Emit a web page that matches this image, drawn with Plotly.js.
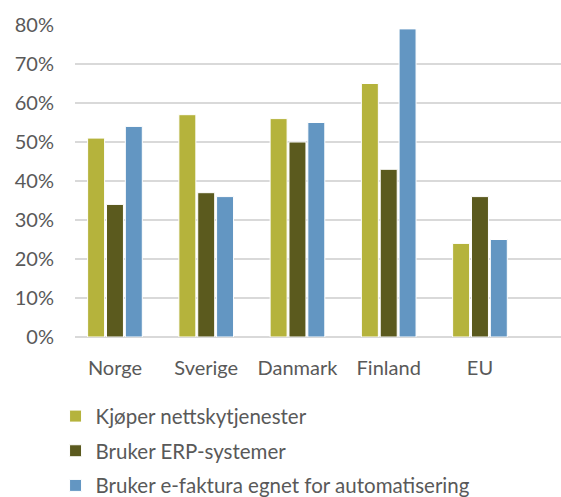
<!DOCTYPE html>
<html>
<head>
<meta charset="utf-8">
<script src="https://cdn.plot.ly/plotly-3.0.1.min.js"></script>
<style>html,body{margin:0;padding:0;background:#fff;}#chart{width:561px;height:497px;}</style>
</head>
<body>
<div id="chart"></div>
<script>
const categories = ["Norge", "Sverige", "Danmark", "Finland", "EU"];
const seriesNames = ["Kjøper nettskytjenester", "Bruker ERP-systemer", "Bruker e-faktura egnet for automatisering"];
const kjoperNettsky = [51, 57, 56, 65, 24];
const brukerERP = [34, 37, 50, 43, 36];
const brukerEfaktura = [54, 36, 55, 79, 25];
const yTickVals = [0, 10, 20, 30, 40, 50, 60, 70, 80];
const yTickText = ["0%", "10%", "20%", "30%", "40%", "50%", "60%", "70%", "80%"];

const colors = ["#b5b33c", "#5b5a1e", "#6396c2"];
const seriesValues = [kjoperNettsky, brukerERP, brukerEfaktura];
const xIdx = categories.map((c, i) => i);

const traces = seriesValues.map((vals, k) => ({
  type: "bar",
  x: xIdx,
  y: vals,
  name: seriesNames[k],
  legendgroup: "g" + k,
  marker: {color: colors[k], line: {color: "#ffffff", width: 1}},
  hoverinfo: "skip"
}));

const font = {family: "Lato, 'Open Sans', sans-serif", size: 20, color: "#595959"};
const legendFont = {family: "Lato, 'Open Sans', sans-serif", size: 20.5, color: "#595959"};

const layout = {
  width: 561, height: 497,
  margin: {l: 75, r: 0, t: 25, b: 160, autoexpand: false},
  paper_bgcolor: "#ffffff",
  plot_bgcolor: "#ffffff",
  font: font,
  showlegend: true,
  barmode: "group",
  bargap: 0.38,
  bargroupgap: 0.1,
  xaxis: {
    range: [-0.438, 4.888],
    tickvals: xIdx,
    ticktext: categories,
    showgrid: false,
    zeroline: false,
    showline: false,
    ticks: "",
    ticklabelstandoff: 17,
    tickfont: font
  },
  yaxis: {
    range: [0, 80],
    tickvals: yTickVals,
    ticktext: yTickText,
    showgrid: true,
    gridcolor: "#d9d9d9",
    gridwidth: 1.5,
    zeroline: true,
    zerolinecolor: "#d9d9d9",
    zerolinewidth: 1.5,
    ticks: "",
    ticklabelstandoff: 20,
    tickfont: font
  },
  legend: {
    orientation: "v",
    x: -0.04, xanchor: "left",
    y: -0.19, yanchor: "top",
    font: legendFont,
    tracegroupgap: 5,
    itemwidth: 30,
    bgcolor: "rgba(0,0,0,0)"
  }
};

Plotly.newPlot("chart", traces, layout, {displayModeBar: false, staticPlot: true});
</script>
</body>
</html>
